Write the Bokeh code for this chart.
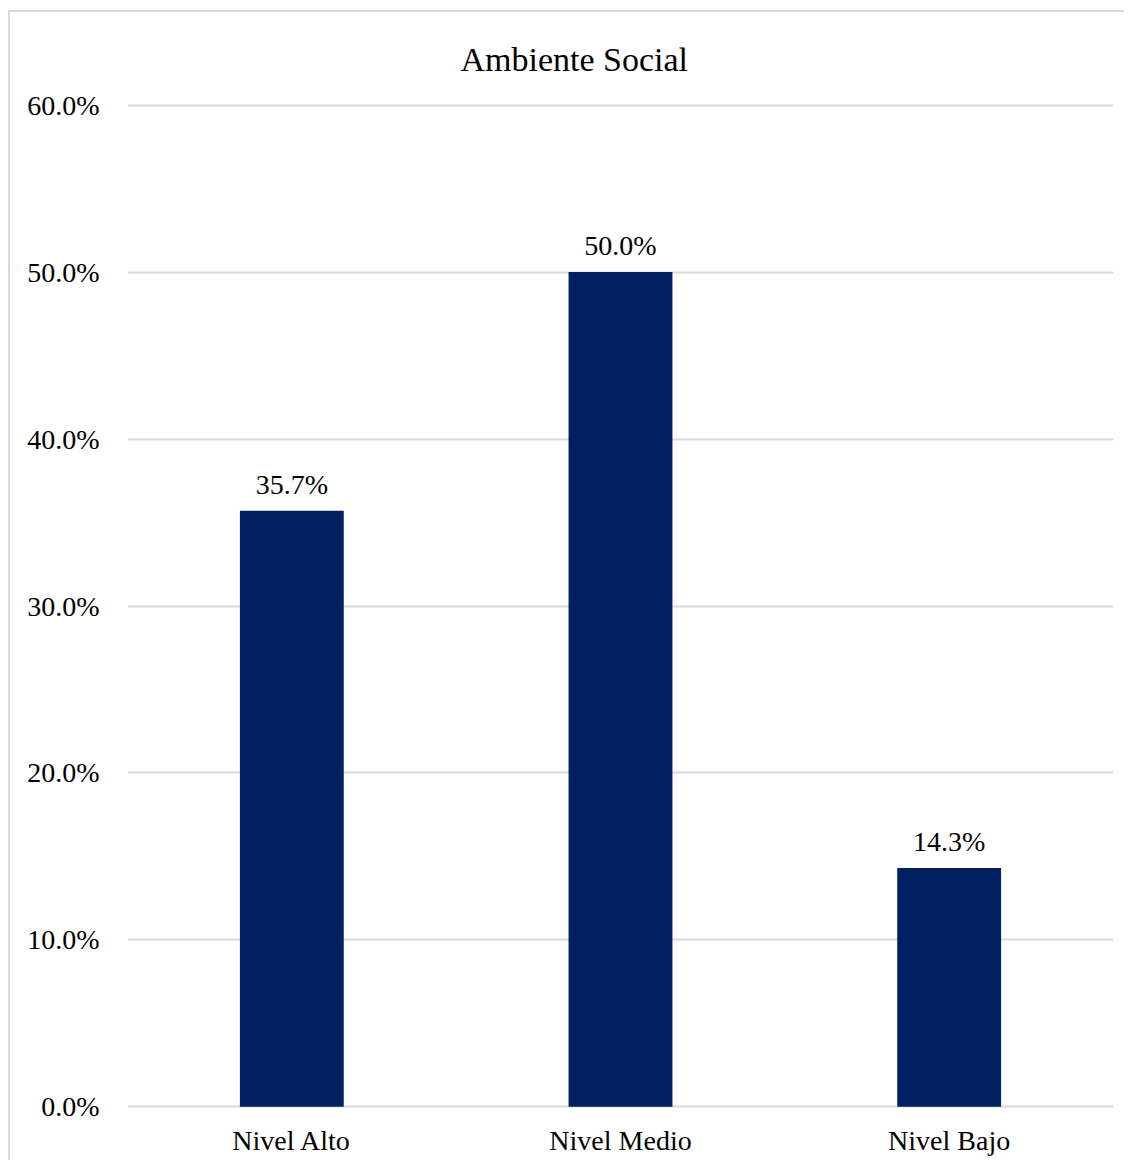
from bokeh.plotting import figure
from bokeh.models import ColumnDataSource, LabelSet, PrintfTickFormatter, FixedTicker, Range1d
from bokeh.embed import file_html
from bokeh.resources import INLINE

categories = ["Nivel Alto", "Nivel Medio", "Nivel Bajo"]
values = [35.7, 50.0, 14.3]
value_labels = ["35.7%", "50.0%", "14.3%"]
y_ticks = [0, 10, 20, 30, 40, 50, 60]
title_text = "Ambiente Social"

FONT = "Liberation Serif"
src = ColumnDataSource(dict(cat=categories, val=values, lab=value_labels))

p = figure(x_range=categories, y_range=Range1d(-0.1, 60.1), width=1116, height=1150,
           output_backend="svg", toolbar_location=None,
           min_border_left=117, min_border_right=13, min_border_top=91, min_border_bottom=54)
p.outline_line_color = None
p.styles = {"margin-left": "8px", "margin-top": "10px",
            "border-left": "2px solid #d9d9d9", "border-top": "2px solid #d9d9d9"}

p.title.text = title_text
p.title.align = "left"
p.title.offset = 333
p.title.standoff = 51
p.title.text_font = FONT
p.title.text_font_size = "34px"
p.title.text_font_style = "normal"
p.title.text_color = "#000000"

p.vbar(x="cat", top="val", width=0.316, source=src, fill_color="#002060", line_color=None)

labels = LabelSet(x="cat", y="val", text="lab", source=src, text_align="center",
                  text_baseline="bottom", y_offset=11, text_font=FONT,
                  text_font_size="28px", text_color="#000000")
p.add_layout(labels)

p.xgrid.grid_line_color = None
p.ygrid.grid_line_color = "#d9d9d9"
p.ygrid.grid_line_width = 2
p.yaxis.ticker = FixedTicker(ticks=y_ticks)
p.yaxis.formatter = PrintfTickFormatter(format="%.1f%%")
for ax in (p.xaxis, p.yaxis):
    ax.axis_line_color = None
    ax.major_tick_line_color = None
    ax.minor_tick_line_color = None
    ax.major_tick_out = 0
    ax.major_tick_in = 0
    ax.major_label_text_font = FONT
    ax.major_label_text_font_size = "28px"
    ax.major_label_text_color = "#000000"
p.yaxis.major_label_standoff = 28
p.xaxis.major_label_standoff = 16

open("out.html", "w").write(file_html(p, INLINE))
